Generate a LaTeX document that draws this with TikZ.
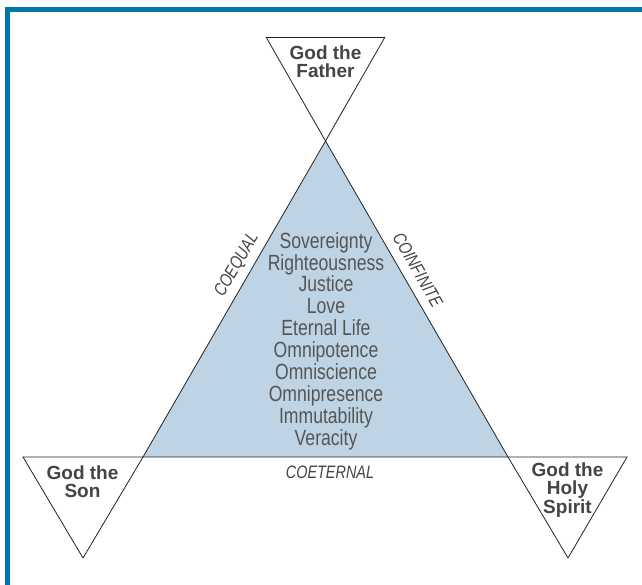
\documentclass[tikz,border=0pt]{standalone}
\usepackage{fontspec}
\setmainfont{Liberation Sans}
\newfontfamily\condfont[FakeStretch=0.8]{Liberation Sans}
\definecolor{frameblue}{RGB}{0,118,170}
\definecolor{fillblue}{RGB}{190,212,228}
\definecolor{labelgray}{RGB}{68,68,68}
\definecolor{listgray}{RGB}{85,85,85}
\definecolor{linegray}{RGB}{34,34,34}
\tikzset{
  edge/.style={draw=linegray, line width=0.8pt, line join=miter},
  person/.style={text=labelgray, align=center, inner sep=0pt,
    font=\fontsize{19}{18.3}\selectfont\bfseries},
  attrlist/.style={text=listgray, align=center, inner sep=0pt,
    font=\condfont\fontsize{22}{21.9}\selectfont},
  sidelabel/.style={text=labelgray, inner sep=0pt,
    font=\condfont\itshape\fontsize{18}{18}\selectfont}
}
\begin{document}
\begin{tikzpicture}[x=1pt,y=-1pt]
\useasboundingbox (0,0) rectangle (642,585);
\fill[white] (0,0) rectangle (642,585);
% frame (top and left edges)
\draw[frameblue, line width=4.5pt] (7.5,585) -- (7.5,9.5) -- (642,9.5);
% vertices
\coordinate (A) at (325.5,141);
\coordinate (B) at (143,457);
\coordinate (C) at (508,457);
\coordinate (F1) at (266,37);
\coordinate (F2) at (385,37);
\coordinate (S1) at (23,457);
\coordinate (S2) at (83,558);
\coordinate (H1) at (627,457);
\coordinate (H2) at (568,558);
% shaded main triangle
\fill[fillblue] (A) -- (B) -- (C) -- cycle;
% lines
\draw[edge] (S2) -- (B) -- (A) -- (F2);
\draw[edge] (H2) -- (C) -- (A) -- (F1);
\draw[edge] (F1) -- (F2);
\draw[edge] (S2) -- (S1) -- (H1) -- (H2);
% labels of the persons
\node[person] (father) at (325.5,62) {God the\\Father};
\node[person] (son) at (82.5,482) {God the\\Son};
\node[person] (spirit) at (567.5,490) {God the\\Holy\\Spirit};
% attributes
\node[attrlist] (attrs) at (326,341) {Sovereignty\\Righteousness\\Justice\\Love\\Eternal Life\\Omnipotence\\Omniscience\\Omnipresence\\Immutability\\Veracity};
% side labels
\node[sidelabel, rotate=60] (coequal) at (237,265) {COEQUAL};
\node[sidelabel, rotate=-60] (coinfinite) at (418,270) {COINFINITE};
\node[sidelabel] (coeternal) at (330,472) {COETERNAL};
\end{tikzpicture}
\end{document}
